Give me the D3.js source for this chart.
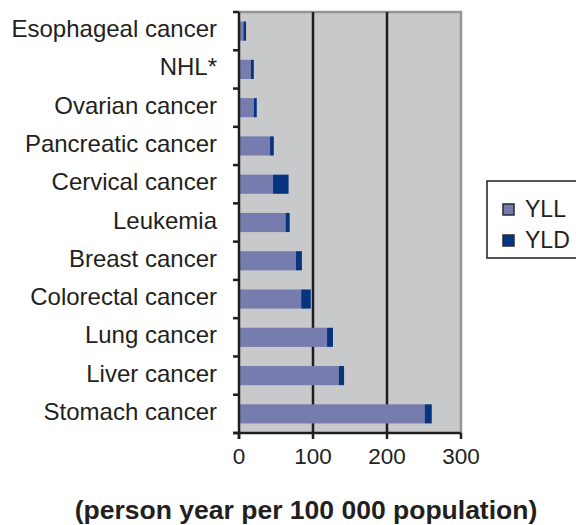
<!DOCTYPE html>
<html><head><meta charset="utf-8">
<script src="https://cdn.jsdelivr.net/npm/d3@7"></script>
<style>body{margin:0;background:#fff}svg{display:block}</style>
</head><body>
<script>
const categories = ["Esophageal cancer","NHL*","Ovarian cancer","Pancreatic cancer","Cervical cancer","Leukemia","Breast cancer","Colorectal cancer","Lung cancer","Liver cancer","Stomach cancer"];
const yll = [6, 16, 20, 42, 46, 63, 77, 84, 119, 135, 251];
const yld = [3.5, 4, 4, 5, 21, 5.5, 8, 13, 8, 7, 9.5];
const seriesNames = ["YLL","YLD"];
const seriesColors = ["#767dae","#07347f"];
const xTicks = [0, 100, 200, 300];
const xTitle = "(person year per 100 000 population)";

const W = 576, H = 525;
const L = 239, R = 461, T = 12, B = 433;
const font = "'Liberation Sans', Arial, Helvetica, sans-serif";
const ink = "#231f20";

const svg = d3.select("body").append("svg").attr("width", W).attr("height", H);
const x = d3.scaleLinear().domain([0, 300]).range([L, R]);
const y = d3.scaleBand().domain(categories).range([T, B]).paddingInner(0.5).paddingOuter(0.25);

svg.append("rect").attr("x", L).attr("y", T).attr("width", R - L).attr("height", B - T).attr("fill", "#c8c9cb");

// top & right border (grey)
svg.append("path").attr("d", `M${L},${T}H${R}V${B}`).attr("fill", "none").attr("stroke", "#959595").attr("stroke-width", 2.5);

// gridlines
svg.selectAll("line.grid").data(xTicks.filter(d => d > 0 && d < 300)).join("line")
  .attr("x1", d => x(d)).attr("x2", d => x(d)).attr("y1", T).attr("y2", B)
  .attr("stroke", "#1e1e1e").attr("stroke-width", 2.5);

// bars
const stack = categories.map((c, i) => ({c, v: [yll[i], yld[i]]}));
stack.forEach(s => {
  let acc = 0;
  s.v.forEach((v, j) => {
    svg.append("rect").attr("x", x(acc)).attr("y", y(s.c)).attr("width", x(acc + v) - x(acc))
      .attr("height", y.bandwidth()).attr("fill", seriesColors[j]);
    acc += v;
  });
});

// left axis
const step = y.step();
const bounds = d3.range(categories.length + 1).map(i => T + i * step);
svg.append("line").attr("x1", L).attr("x2", L).attr("y1", T).attr("y2", B + 6).attr("stroke", "#1e1e1e").attr("stroke-width", 2.5);
svg.selectAll("line.lt").data(bounds).join("line")
  .attr("x1", L - 6).attr("x2", L).attr("y1", d => d).attr("y2", d => d)
  .attr("stroke", "#1e1e1e").attr("stroke-width", 2.5);
svg.selectAll("text.cat").data(categories).join("text")
  .attr("x", 217).attr("y", d => y(d) + y.bandwidth() / 2 + 6)
  .attr("text-anchor", "end")
  .attr("font-family", font).attr("font-size", 24).attr("fill", ink).text(d => d);

// bottom axis
svg.append("line").attr("x1", L - 6).attr("x2", R).attr("y1", B).attr("y2", B).attr("stroke", "#1e1e1e").attr("stroke-width", 2.5);
svg.selectAll("line.bt").data(xTicks).join("line")
  .attr("x1", d => x(d)).attr("x2", d => x(d)).attr("y1", B).attr("y2", B + 6)
  .attr("stroke", "#1e1e1e").attr("stroke-width", 2.5);
svg.selectAll("text.xt").data(xTicks).join("text")
  .attr("x", d => x(d)).attr("y", 463.5)
  .attr("text-anchor", "middle").attr("font-family", font).attr("font-size", 22.5).attr("fill", ink).text(d => d);

svg.append("text").attr("transform", `translate(306,519) scale(1.02,1)`)
  .attr("text-anchor", "middle").attr("font-family", font).attr("font-size", 26).attr("font-weight", "bold")
  .attr("fill", ink).text(xTitle);

// legend
svg.append("rect").attr("x", 487).attr("y", 181).attr("width", 100).attr("height", 77)
  .attr("fill", "#fff").attr("stroke", "#1e1e1e").attr("stroke-width", 1.5);
seriesNames.forEach((n, i) => {
  const cy = 209.5 + i * 31;
  svg.append("rect").attr("x", 503).attr("y", cy - 5.5).attr("width", 11).attr("height", 11)
    .attr("fill", seriesColors[i]).attr("stroke", "#2a2a2a").attr("stroke-width", 1.5);
  svg.append("text").attr("x", 525).attr("y", cy + 7.5)
    .attr("font-family", font).attr("font-size", 23).attr("fill", ink).text(n);
});
</script>
</body></html>
